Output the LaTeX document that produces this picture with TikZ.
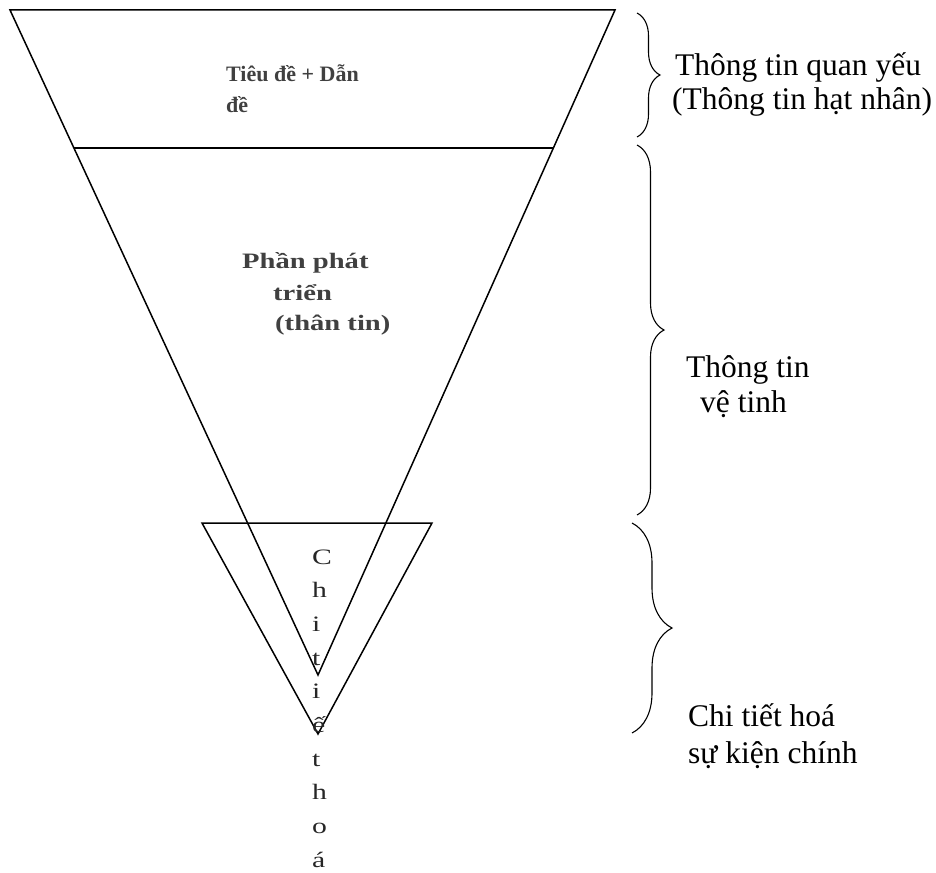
\documentclass[tikz,border=0pt]{standalone}
\usepackage{fontspec}
\setmainfont{Liberation Serif}
\usetikzlibrary{calc,decorations.pathreplacing,positioning}

\begin{document}
\begin{tikzpicture}[x=1pt,y=1pt,
  funnel/.style={line width=1.5pt,line join=miter},
  brc/.style={decorate,decoration={brace,amplitude=#1},line width=1.1pt},
  side/.style={font=\fontsize{31.5}{34}\selectfont,anchor=base west,inner sep=0pt},
  inside/.style={font=\fontsize{22}{28}\selectfont\bfseries,text=black!75,anchor=base west,inner sep=0pt},
  wide/.style={inside,font=\fontsize{22}{28}\selectfont\bfseries\addfontfeature{FakeStretch=1.3}},
  letter/.style={font=\fontsize{22}{28}\selectfont\addfontfeature{FakeStretch=1.35},text=black!85,anchor=base west,inner sep=0pt}]
  \useasboundingbox (0,0) rectangle (936,-872);
  % big funnel
  \coordinate (tl) at (10,-10);
  \coordinate (tr) at (615,-10);
  \coordinate (apex) at (318,-675);
  \coordinate (ml) at ($(tl)!0.2075!(apex)$);
  \coordinate (mr) at ($(tr)!0.2075!(apex)$);
  \draw[funnel] (tl) -- (tr) -- (apex) -- cycle;
  \draw[funnel] (ml) -- (mr);
  % small funnel
  \coordinate (sl) at (202,-523);
  \coordinate (sr) at (432,-523);
  \coordinate (sapex) at (318,-734);
  \draw[funnel] (sl) -- (sr) -- (sapex) -- cycle;
  % texts inside
  \node[inside] (tieude) at (226,-82) {Tiêu đề + Dẫn};
  \node[inside] (de) at (226,-113) {đề};
  \node[wide] (phan) at (242,-268) {Phần phát};
  \node[wide] (trien) at (273,-300) {triển};
  \node[wide] (than) at (275,-330) {(thân tin)};
  \foreach \ch [count=\i from 0] in {C,h,i,t,i,ế,t,h,o,á}
    \node[letter] (ch\i) at (312,-564-33.7*\i) {\ch};
  % braces
  \draw[brc=23pt] (637,-13) -- (637,-137);
  \draw[brc=27pt] (637,-145) -- (637,-515);
  \draw[brc=40pt] (632,-523) -- (632,-733);
  \node[side] (quanyeu) at (675,-76) {Thông tin quan yếu};
  \node[side] (hatnhan) at (672,-110) {(Thông tin hạt nhân)};
  \node[side] (thongtin) at (686,-377) {Thông tin};
  \node[side] (vetinh) at (700,-412) {vệ tinh};
  \node[side] (chitiet) at (688,-726) {Chi tiết hoá};
  \node[side] (sukien) at (688,-763) {sự kiện chính};
\end{tikzpicture}
\end{document}
